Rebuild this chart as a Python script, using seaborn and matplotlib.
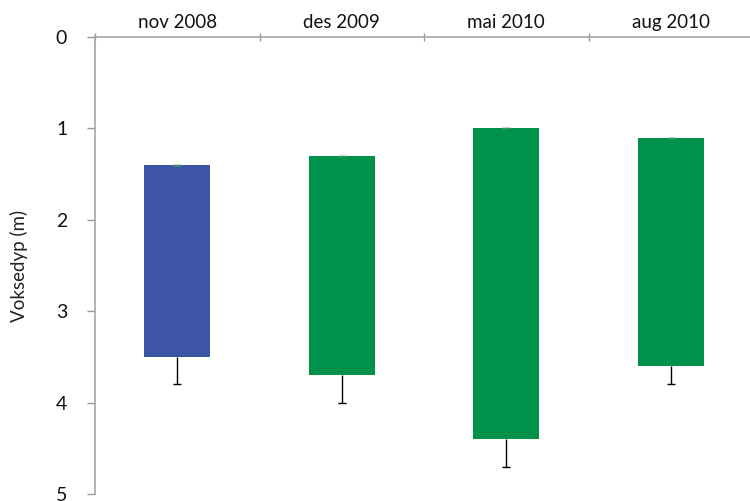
"""
Floating bars of growth depth (Voksedyp) per survey, inverted depth axis.
"""

import numpy as np
import matplotlib
matplotlib.use("Agg")
import matplotlib.pyplot as plt
import seaborn as sns

# --- data ---
surveys = ["nov 2008", "des 2009", "mai 2010", "aug 2010"]
depth_top = [1.4, 1.3, 1.0, 1.1]        # upper growth limit (m)
depth_bottom = [3.5, 3.7, 4.4, 3.6]     # lower growth limit (m)
depth_max = [3.8, 4.0, 4.7, 3.8]        # end of error bar (m)
bar_colors = ["#3C55A5", "#00914A", "#00914A", "#00914A"]


def main():
    sns.set_theme(style="white")
    plt.rcParams["font.family"] = ["Lato", "DejaVu Sans"]

    fig = plt.figure(figsize=(7.5, 5.01), dpi=100)
    ax = fig.add_axes([95 / 750, 1 - 494 / 501, 658 / 750, (494 - 37) / 501])

    heights = np.array(depth_bottom) - np.array(depth_top)
    sns.barplot(x=surveys, y=heights, bottom=depth_top, color=bar_colors[1],
                width=0.4, saturation=1, ax=ax, linewidth=0)
    for patch, c in zip(ax.patches, bar_colors):
        patch.set_facecolor(c)

    xs = np.arange(len(surveys))
    # lower error bar: stem without caps, then a single cap at the end
    lower = np.array(depth_max) - np.array(depth_bottom)
    ax.errorbar(xs, depth_bottom, yerr=[np.zeros(len(xs)), lower], fmt="none",
                ecolor="black", elinewidth=1, capsize=0, zorder=3)
    ax.scatter(xs, depth_max, marker="_", s=40, color="black", linewidths=1,
               zorder=3)
    # zero-length cap at the upper end
    ax.errorbar(xs, depth_top, yerr=0, fmt="none", ecolor="#3A9A5A",
                elinewidth=1, capsize=3, capthick=1, zorder=3)

    ax.set_ylim(5, 0)
    ax.set_xlim(-0.5, 3.5)
    ax.set_yticks([0, 1, 2, 3, 4, 5])
    ax.set_ylabel("Voksedyp (m)", fontsize=13.5, color="#222222", labelpad=20)

    # categories on the top axis, tick marks between categories
    ax.xaxis.tick_top()
    ax.set_xticks(xs)
    ax.set_xticklabels(surveys, fontsize=13.5, color="#111111")
    ax.set_xticks(np.arange(-0.5, 4.0, 1.0), minor=True)
    ax.tick_params(axis="x", which="major", length=0, pad=4)
    ax.tick_params(axis="x", which="minor", top=True, bottom=False,
                   length=6, direction="inout", color="#999999", width=1)
    ax.tick_params(axis="y", left=True, length=6, color="#999999", width=1,
                   labelsize=14, labelcolor="#111111", pad=14)

    for side in ["right", "bottom"]:
        ax.spines[side].set_visible(False)
    for side in ["left", "top"]:
        ax.spines[side].set_color("#A6A6A6")
        ax.spines[side].set_linewidth(1.2)

    fig.savefig("out.png", dpi=100)


if __name__ == "__main__":
    main()
